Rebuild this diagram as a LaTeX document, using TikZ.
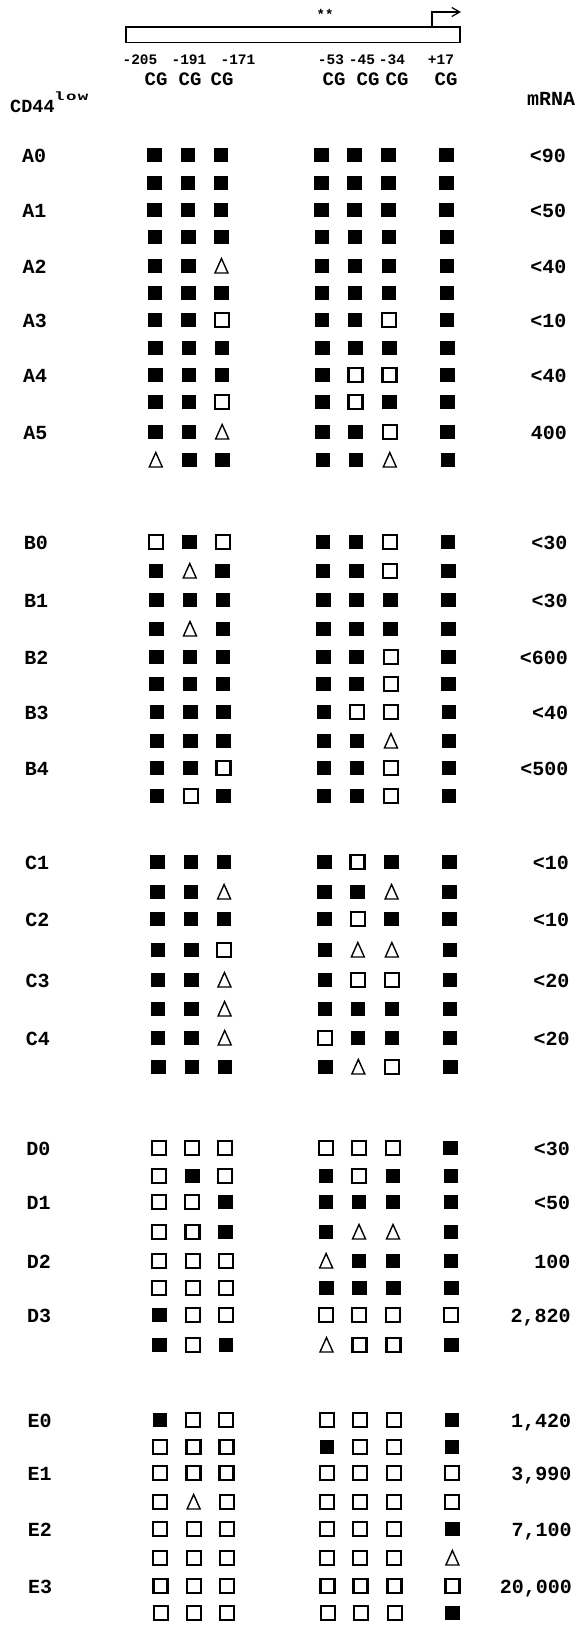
\documentclass[tikz,border=0pt]{standalone}
\usepackage{fontspec}
\setmonofont{Liberation Mono}
\newfontfamily\lowfont{Liberation Mono}[LetterSpace=8]
\usetikzlibrary{arrows.meta}
\newcommand\symF[2]{\fill (#1,#2) +(-7.25,-7.25) rectangle +(7.25,7.25);}
\newcommand\symO[2]{\draw[line width=2.2pt] (#1,#2) +(-7,-7) rectangle +(7,7);}
\newcommand\symT[2]{\draw[line width=1.4pt, line join=miter] (#1,#2) +(0,-7.5) -- +(6.5,7) -- +(-6.5,7) -- cycle;}
\def\colx{{154.5,188,221,321.5,354.5,388.5,446.5}}
\tikzset{
  txt/.style={inner sep=0pt, font=\ttfamily\bfseries\fontsize{20}{20}\selectfont},
  posnum/.style={inner sep=0pt, anchor=base, font=\ttfamily\bfseries\fontsize{14.5}{14.5}\selectfont},
  cglbl/.style={inner sep=0pt, anchor=base, font=\ttfamily\bfseries\fontsize{19}{19}\selectfont},
  rowlbl/.style={txt, anchor=base west},
  mval/.style={txt, anchor=base east},
  genebar/.style={draw, line width=1.8pt, inner sep=0pt, minimum width=334pt, minimum height=15.5pt, anchor=north west},
}
\begin{document}
\begin{tikzpicture}[x=1pt,y=-1pt]
\fill[white] (0,0) rectangle (579,1625);
\useasboundingbox (0,0) rectangle (579,1625);
% gene bar with promoter arrow
\node[genebar] (bar) at (125,26) {};
\coordinate (tss) at (432,26);
\coordinate (tsstip) at (461,12);
\draw[line width=2.6pt, -{Straight Barb[length=8pt,width=9pt,line width=1.2pt]}] (tss) |- (tsstip);
\node[inner sep=0pt, anchor=north, font=\ttfamily\bfseries\fontsize{14}{14}\selectfont] (stars) at (325,9) {**};
% positions
\foreach \x/\t [count=\k] in {140/-205,189/-191,238/-171,331/-53,362/-45,392/-34,441/+17}
  \node[posnum] (p\k) at (\x,64) {\t};
\foreach \x [count=\k] in {156,190,222,334,368,397,446}
  \node[cglbl] (cg\k) at (\x,85) {CG};
% headers
\node[inner sep=0pt, anchor=base west, font=\ttfamily\bfseries\fontsize{18.5}{18.5}\selectfont] (cd44) at (10,112) {CD44};
\node[inner sep=0pt, anchor=base west, font=\lowfont\bfseries\fontsize{12}{12}\selectfont] (low) at (54,100) {\scalebox{1.45}[1]{low}};
\node[txt, anchor=base west] (mrna) at (527,105) {mRNA};
% clone labels and mRNA values
\foreach \y/\lab/\val in {155/A0/<90, 210/A1/<50, 266/A2/<40, 320/A3/<10, 375/A4/<40, 432/A5/400,
  542/B0/<30, 600/B1/<30, 657/B2/<600, 712/B3/<40, 768/B4/<500,
  862/C1/<10, 919/C2/<10, 980/C3/<20, 1038/C4/<20,
  1148/D0/<30, 1202/D1/<50, 1261/D2/100, 1315/D3/{2,820},
  1420/E0/{1,420}, 1473/E1/{3,990}, 1529/E2/{7,100}, 1586/E3/{20,000}}{
  \pgfmathsetmacro\dx{0.0042*(\y-155)}
  \node[rowlbl] (lab-\lab) at (22+\dx,\y+7) {\lab};
  \node[mval] (val-\lab) at (566+\dx,\y+7) {\val};
}
% methylation symbols: F filled, O open, T triangle
\foreach \y/\pat in {
  155/{F,F,F,F,F,F,F}, 183/{F,F,F,F,F,F,F}, 210/{F,F,F,F,F,F,F}, 237/{F,F,F,F,F,F,F},
  266/{F,F,T,F,F,F,F}, 293/{F,F,F,F,F,F,F}, 320/{F,F,O,F,F,O,F}, 348/{F,F,F,F,F,F,F},
  375/{F,F,F,F,O,O,F}, 402/{F,F,O,F,O,F,F}, 432/{F,F,T,F,F,O,F}, 460/{T,F,F,F,F,T,F},
  542/{O,F,O,F,F,O,F}, 571/{F,T,F,F,F,O,F}, 600/{F,F,F,F,F,F,F}, 629/{F,T,F,F,F,F,F},
  657/{F,F,F,F,F,O,F}, 684/{F,F,F,F,F,O,F}, 712/{F,F,F,F,O,O,F}, 741/{F,F,F,F,F,T,F},
  768/{F,F,O,F,F,O,F}, 796/{F,O,F,F,F,O,F},
  862/{F,F,F,F,O,F,F}, 892/{F,F,T,F,F,T,F}, 919/{F,F,F,F,O,F,F}, 950/{F,F,O,F,T,T,F},
  980/{F,F,T,F,O,O,F}, 1009/{F,F,T,F,F,F,F}, 1038/{F,F,T,O,F,F,F}, 1067/{F,F,F,F,T,O,F},
  1148/{O,O,O,O,O,O,F}, 1176/{O,F,O,F,O,F,F}, 1202/{O,O,F,F,F,F,F}, 1232/{O,O,F,F,T,T,F},
  1261/{O,O,O,T,F,F,F}, 1288/{O,O,O,F,F,F,F}, 1315/{F,O,O,O,O,O,O}, 1345/{F,O,F,T,O,O,F},
  1420/{F,O,O,O,O,O,F}, 1447/{O,O,O,F,O,O,F}, 1473/{O,O,O,O,O,O,O}, 1502/{O,T,O,O,O,O,O},
  1529/{O,O,O,O,O,O,F}, 1558/{O,O,O,O,O,O,T}, 1586/{O,O,O,O,O,O,O}, 1613/{O,O,O,O,O,O,F}}{
  \foreach \s [count=\i] in \pat {
    \pgfmathsetmacro\cx{\colx[\i-1]+0.0042*(\y-155)}
    \csname sym\s\endcsname{\cx}{\y}
  }
}
\end{tikzpicture}
\end{document}
